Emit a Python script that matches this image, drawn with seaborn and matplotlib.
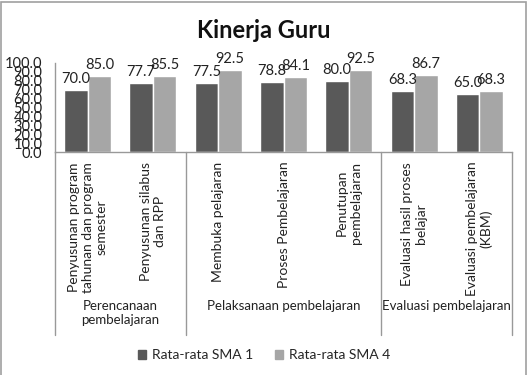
import numpy as np
import pandas as pd
import matplotlib
matplotlib.use('Agg')
import matplotlib.pyplot as plt
import seaborn as sns
from matplotlib.patches import Rectangle
from matplotlib.lines import Line2D

# data
categories = [
    'Penyusunan program\ntahunan dan program\nsemester',
    'Penyusunan silabus\ndan RPP',
    'Membuka pelajaran',
    'Proses Pembelajaran',
    'Penutupan\npembelajaran',
    'Evaluasi hasil proses\nbelajar',
    'Evaluasi pembelajaran\n(KBM)',
]
groups = ['Perencanaan\npembelajaran', 'Pelaksanaan pembelajaran', 'Evaluasi pembelajaran']
group_sizes = [2, 3, 2]
series = ['Rata-rata SMA 1', 'Rata-rata SMA 4']
sma1 = [70.0, 77.7, 77.5, 78.8, 80.0, 68.3, 65.0]
sma4 = [85.0, 85.5, 92.5, 84.1, 92.5, 86.7, 68.3]
colors = ['#595959', '#a6a6a6']

df = pd.DataFrame({
    'kategori': categories * 2,
    'seri': [series[0]] * len(categories) + [series[1]] * len(categories),
    'nilai': sma1 + sma4,
})

sns.set_style('white')
plt.rcParams['font.family'] = ['Lato', 'DejaVu Sans']

fig = plt.figure(figsize=(5.28, 3.75), dpi=100)
ax = fig.add_axes([55 / 528, 1 - 152 / 375, (512 - 55) / 528, (152 - 63) / 375])

sns.barplot(data=df, x='kategori', y='nilai', hue='seri', palette=colors,
            width=0.72, saturation=1, ax=ax, legend=False)

for cont in ax.containers:
    ax.bar_label(cont, fmt='%.1f', padding=3, fontsize=10.5, color='#222222')

ax.set_ylim(0, 100)
ax.set_xlim(-0.5, len(categories) - 0.5)
ax.set_yticks(np.arange(0, 101, 10))
ax.set_yticklabels([f'{v:.1f}' for v in np.arange(0, 101, 10)], fontsize=10.5, color='#222222')
ax.tick_params(axis='y', pad=9, length=0)
ax.set_xticks([])
ax.set_xlabel('')
ax.set_ylabel('')
for s in ['top', 'right']:
    ax.spines[s].set_visible(False)
for s in ['left', 'bottom']:
    ax.spines[s].set_color('#999999')
    ax.spines[s].set_linewidth(1)

# category labels
trans = ax.get_xaxis_transform()
for i, c in enumerate(categories):
    ax.text(i, -0.11, c, rotation=90, ha='center', va='top', multialignment='center',
            fontsize=10, linespacing=1.15, color='#222222', transform=trans,
            clip_on=False)

# group labels and separators
sep_bottom = -(335 - 152) / (152 - 63)
start = 0
bounds = [-0.5]
for g, n in zip(groups, group_sizes):
    center = start + (n - 1) / 2
    ax.text(center, -(300 - 152) / (152 - 63), g, ha='center', va='top',
            multialignment='center', fontsize=9.5, color='#222222',
            transform=trans, clip_on=False)
    start += n
    bounds.append(start - 0.5)
for b in bounds:
    ax.add_line(Line2D([b, b], [0, sep_bottom], transform=trans, color='#999999',
                       lw=1, clip_on=False))

# title
fig.text(0.5, 1 - 31 / 375, 'Kinerja Guru', ha='center', va='center',
         fontsize=17, fontweight='bold', color='#111111')

# legend
handles = [Rectangle((0, 0), 1, 1, color=c) for c in colors]
fig.legend(handles, series, loc='center', bbox_to_anchor=(0.5, 1 - 355 / 375),
           ncol=2, frameon=False, fontsize=10, handlelength=0.6, handleheight=0.6,
           columnspacing=1.6, handletextpad=0.4)

# chart border
fig.patches.append(Rectangle((1 / 528, -0.05), 525 / 528, 1.05 - 2 / 375,
                             transform=fig.transFigure, fill=False,
                             edgecolor='#a0a0a0', lw=1.2))

fig.savefig('out.png', dpi=100)
